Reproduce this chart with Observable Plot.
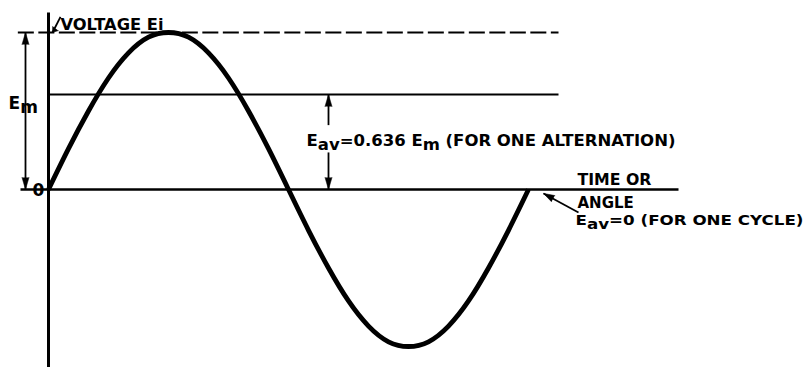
<!DOCTYPE html>
<html>
<head>
<meta charset="utf-8">
<script src="https://cdn.jsdelivr.net/npm/d3@7"></script>
<script src="https://cdn.jsdelivr.net/npm/@observablehq/plot@0.6"></script>
<style>
  html, body { margin: 0; padding: 0; background: #fff; }
  #chart { width: 804px; height: 367px; overflow: hidden; }
</style>
</head>
<body>
<div id="chart"></div>
<script>
// ---- data ----
const angles  = [0,15,30,45,60,75,90,105,120,135,150,165,180,195,210,225,240,255,270,285,300,315,330,345,360];
const voltage = [0,0.26,0.5,0.71,0.87,0.97,1,0.97,0.87,0.71,0.5,0.26,0,-0.26,-0.5,-0.71,-0.87,-0.97,-1,-0.97,-0.87,-0.71,-0.5,-0.26,0];
const peakLevel = 1;          // Em
const avgLevel = 0.605;       // drawn level of Eav line
const axisLabel = "VOLTAGE Ei";
const emLabel = "E_m";
const zeroLabel = "0";
const avgLabel = "E_av=0.636 E_m (FOR ONE ALTERNATION)";
const timeLabel1 = "TIME OR";
const timeLabel2 = "ANGLE";
const cycleLabel = "E_av=0 (FOR ONE CYCLE)";

const wave = angles.map((a, i) => ({a, v: voltage[i]}));

// ---- layout (in data units) ----
const X0 = -36, X1 = 567, Y0 = -1.1338, Y1 = 1.2038;
const font = {fontFamily: "DejaVu Sans", fontWeight: "bold", fill: "black", textAnchor: "start"};

const labels = [
  {x: 9, y: 1.047, t: axisLabel, s: 16},
  {x: -30, y: 0.55, t: emLabel, s: 17},
  {x: -12, y: -0.004, t: zeroLabel, s: 17},
  {x: 193.5, y: 0.305, t: avgLabel, s: 15},
  {x: 396.75, y: 0.057, t: timeLabel1, s: 15},
  {x: 396.75, y: -0.086, t: timeLabel2, s: 15},
  {x: 395.25, y: -0.197, t: cycleLabel, s: 14}
];
const widths = {};
widths[axisLabel] = 103; widths[avgLabel] = 369; widths[timeLabel1] = 74;
widths[cycleLabel] = 228;

const shafts = [
  {x1: -17.25, y1: peakLevel, x2: -17.25, y2: 0},
  {x1: 210, y1: avgLevel, x2: 210, y2: 0.41},
  {x1: 210, y1: 0.236, x2: 210, y2: 0},
  {x1: 397.5, y1: -0.146, x2: 371.25, y2: -0.025},
  {x1: 9, y1: 1.099, x2: 3, y2: 1.0}
];
const heads = [
  {x: -17.25, y: peakLevel, r: 0, len: 12},
  {x: -17.25, y: 0, r: 180, len: 12},
  {x: 210, y: avgLevel, r: 0, len: 12},
  {x: 210, y: 0, r: 180, len: 12},
  {x: 371.25, y: -0.025, r: 298.5, len: 11},
  {x: 3, y: 1.0, r: 217, len: 5}
];

const svg = Plot.plot({
  width: 804,
  height: 367,
  margin: 0,
  style: {background: "white", overflow: "visible"},
  x: {domain: [X0, X1], range: [0, 804], axis: null},
  y: {domain: [Y0, Y1], range: [367, 0], axis: null},
  marks: [
    // vertical axis
    Plot.link([{x: 0, y1: Y0, y2: 1.127}], {x1: "x", x2: "x", y1: "y1", y2: "y2", stroke: "black", strokeWidth: 3}),
    // zero (time) axis
    Plot.link([{x1: -21, x2: 472.5, y: 0}], {x1: "x1", x2: "x2", y1: "y", y2: "y", stroke: "black", strokeWidth: 2.6}),
    // peak dashed line
    Plot.link([{x1: -23, x2: 382.5, y: peakLevel}], {x1: "x1", x2: "x2", y1: "y", y2: "y", stroke: "black", strokeWidth: 2.2, strokeDasharray: "16,4.5"}),
    // average level line
    Plot.link([{x1: 0, x2: 382.5, y: avgLevel}], {x1: "x1", x2: "x2", y1: "y", y2: "y", stroke: "black", strokeWidth: 2.2}),
    // sine wave
    Plot.line(wave, {x: "a", y: "v", curve: "natural", stroke: "black", strokeWidth: 4.8, strokeLinecap: "butt"}),
    // arrow shafts
    Plot.link(shafts, {x1: "x1", y1: "y1", x2: "x2", y2: "y2", stroke: "black", strokeWidth: 1.8}),
    // arrow heads
    Plot.vector(heads, {x: "x", y: "y", rotate: "r", length: "len", r: 3.5, shape: "spike", anchor: "end", fill: "black", stroke: "black", strokeWidth: 0.5}),
    // labels
    Plot.text(labels, {x: "x", y: "y", text: "t", fontSize: "s", ...font})
  ]
});

// subscripts and lettering widths
const ns = "http://www.w3.org/2000/svg";
svg.querySelectorAll('g[aria-label="text"] text').forEach(el => {
  const s = el.textContent;
  if (widths[s]) {
    el.setAttribute("textLength", widths[s]);
    el.setAttribute("lengthAdjust", "spacingAndGlyphs");
  }
  if (s.includes("_")) {
    const parts = s.split(/_([a-z]+)/);
    el.textContent = "";
    parts.forEach((p, i) => {
      if (!p) return;
      const t = document.createElementNS(ns, "tspan");
      t.textContent = p;
      if (i % 2 === 1) t.setAttribute("dy", "4");
      else if (i > 0) t.setAttribute("dy", "-4");
      el.appendChild(t);
    });
  }
});

document.getElementById("chart").appendChild(svg);
</script>
</body>
</html>
